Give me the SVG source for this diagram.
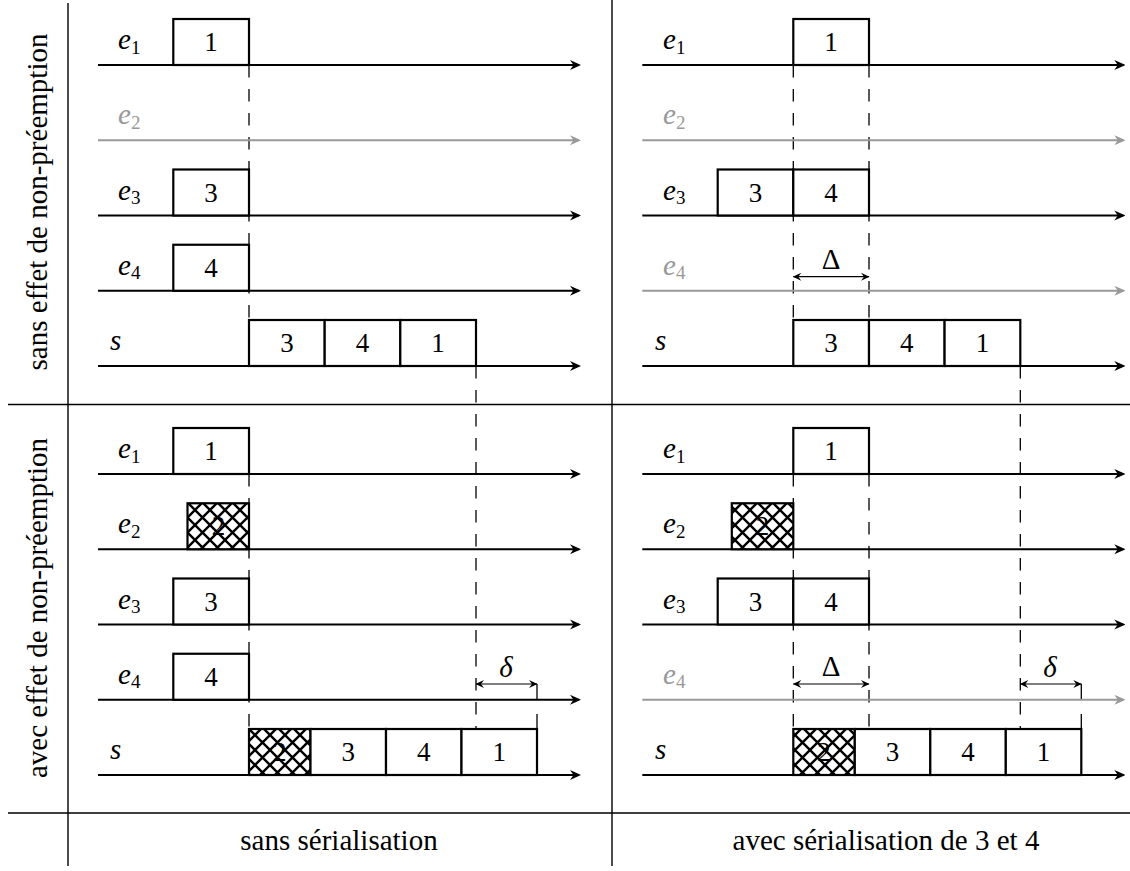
<svg xmlns="http://www.w3.org/2000/svg" width="1130" height="871" viewBox="0 0 1130 871">
<style>
text{font-family:"Liberation Serif","Times New Roman",serif;fill:#000}
.big{font-size:29px}
.lab{font-size:29px;font-style:italic}
.sub{font-size:19px;font-style:normal}
.num{font-size:27px;text-anchor:middle}
.gt{fill:#999}
.sep{stroke:#000;stroke-width:1.4;fill:none}
.ax{stroke:#000;stroke-width:2;fill:none;marker-end:url(#ah)}
.axg{stroke:#999;stroke-width:2;fill:none;marker-end:url(#ahg)}
.box{stroke:#000;stroke-width:2.2;fill:#fff}
.hbox{stroke:#000;stroke-width:2.2;fill:url(#hatch)}
.dash{stroke:#000;stroke-width:1.3;fill:none;stroke-dasharray:12.5 11.5}
.dim{stroke:#000;stroke-width:1.2;fill:none;marker-start:url(#sa);marker-end:url(#sa)}
</style>
<defs>
<marker id="ah" markerUnits="userSpaceOnUse" viewBox="-10 -6 12 12" markerWidth="12" markerHeight="12" refX="0" refY="0" orient="auto">
<path d="M2,0 L-9,-5 L-5.5,0 L-9,5 Z" fill="#000"/>
</marker>
<marker id="ahg" markerUnits="userSpaceOnUse" viewBox="-10 -6 12 12" markerWidth="12" markerHeight="12" refX="0" refY="0" orient="auto">
<path d="M2,0 L-9,-5 L-5.5,0 L-9,5 Z" fill="#999"/>
</marker>
<marker id="sa" markerUnits="userSpaceOnUse" viewBox="-9 -5 10 10" markerWidth="10" markerHeight="10" refX="0" refY="0" orient="auto-start-reverse">
<path d="M0.5,0 L-8,-4 L-5,0 L-8,4 Z" fill="#000"/>
</marker>
<pattern id="hatch" patternUnits="userSpaceOnUse" width="15" height="15">
<rect width="15" height="15" fill="#fff"/>
<path d="M0,0 L15,15 M15,0 L0,15 M-2,13 L2,17 M13,-2 L17,2 M-2,2 L2,-2 M13,17 L17,13" stroke="#000" stroke-width="2.4"/>
</pattern>
</defs>

<g id="frame">
<line class="sep" x1="68" y1="3" x2="68" y2="866"/>
<line class="sep" x1="612" y1="0" x2="612" y2="866"/>
<line class="sep" x1="8" y1="404.5" x2="1130" y2="404.5"/>
<line class="sep" x1="8" y1="813" x2="1130" y2="813"/>
</g>

<g id="headers">
<text class="big" text-anchor="middle" transform="translate(47,202) rotate(-90)">sans effet de non-préemption</text>
<text class="big" text-anchor="middle" transform="translate(47,608) rotate(-90)">avec effet de non-préemption</text>
<text class="big" text-anchor="middle" x="339" y="850">sans sérialisation</text>
<text class="big" text-anchor="middle" x="886" y="850">avec sérialisation de 3 et 4</text>
</g>

<g id="connectors">
<line class="dash" x1="249" y1="65" x2="249" y2="321"/>
<line class="dash" x1="476" y1="366" x2="476" y2="729"/>
<line class="dash" x1="249" y1="474" x2="249" y2="729"/>
<line class="dash" x1="537" y1="729" x2="537" y2="684" style="stroke-dasharray:15 15"/>
<line class="dim" x1="476" y1="684" x2="537" y2="684"/>
<text class="lab" text-anchor="middle" x="506" y="677">δ</text>

<line class="dash" x1="793.3" y1="65" x2="793.3" y2="321"/>
<line class="dash" x1="869" y1="65" x2="869" y2="321"/>
<line class="dash" x1="1020.3" y1="366" x2="1020.3" y2="729"/>
<line class="dash" x1="793.3" y1="474" x2="793.3" y2="729"/>
<line class="dash" x1="869" y1="474" x2="869" y2="729"/>
<line class="dash" x1="1081.3" y1="729" x2="1081.3" y2="684" style="stroke-dasharray:15 15"/>
<line class="dim" x1="793.3" y1="276.7" x2="869" y2="276.7"/>
<text class="big" text-anchor="middle" x="831" y="269">Δ</text>
<line class="dim" x1="793.3" y1="684" x2="869" y2="684"/>
<text class="big" text-anchor="middle" x="831" y="676">Δ</text>
<line class="dim" x1="1020.3" y1="684" x2="1081.3" y2="684"/>
<text class="lab" text-anchor="middle" x="1050" y="677">δ</text>
</g>

<!-- top-left panel -->
<g id="tl-e1">
<line class="ax" x1="98" y1="65" x2="579" y2="65"/>
<text class="lab" x="118" y="49">e<tspan class="sub" dy="4.5">1</tspan></text>
<rect class="box" x="173.3" y="19" width="75.7" height="46"/>
<text class="num" x="211" y="51">1</text>
</g>
<g id="tl-e2">
<line class="axg" x1="98" y1="140.25" x2="579" y2="140.25"/>
<text class="lab gt" x="118" y="124.25">e<tspan class="sub gt" dy="4.5">2</tspan></text>
</g>
<g id="tl-e3">
<line class="ax" x1="98" y1="215.5" x2="579" y2="215.5"/>
<text class="lab" x="118" y="199.5">e<tspan class="sub" dy="4.5">3</tspan></text>
<rect class="box" x="173.3" y="169.5" width="75.7" height="46"/>
<text class="num" x="211" y="201.5">3</text>
</g>
<g id="tl-e4">
<line class="ax" x1="98" y1="290.75" x2="579" y2="290.75"/>
<text class="lab" x="118" y="274.75">e<tspan class="sub" dy="4.5">4</tspan></text>
<rect class="box" x="173.3" y="244.75" width="75.7" height="46"/>
<text class="num" x="211" y="276.75">4</text>
</g>
<g id="tl-s">
<line class="ax" x1="98" y1="366" x2="579" y2="366"/>
<text class="lab" x="110" y="350">s</text>
<rect class="box" x="249" y="320" width="75.7" height="46"/>
<rect class="box" x="324.7" y="320" width="75.6" height="46"/>
<rect class="box" x="400.3" y="320" width="75.7" height="46"/>
<text class="num" x="287" y="352">3</text>
<text class="num" x="362.5" y="352">4</text>
<text class="num" x="438" y="352">1</text>
</g>

<!-- bottom-left panel -->
<g id="bl-e1">
<line class="ax" x1="98" y1="474" x2="579" y2="474"/>
<text class="lab" x="118" y="458">e<tspan class="sub" dy="4.5">1</tspan></text>
<rect class="box" x="173.3" y="428" width="75.7" height="46"/>
<text class="num" x="211" y="460">1</text>
</g>
<g id="bl-e2">
<line class="ax" x1="98" y1="549.25" x2="579" y2="549.25"/>
<text class="lab" x="118" y="533.25">e<tspan class="sub" dy="4.5">2</tspan></text>
<rect class="hbox" x="187.5" y="503.25" width="61.5" height="46"/>
<text class="num" x="218.5" y="535.25">2</text>
</g>
<g id="bl-e3">
<line class="ax" x1="98" y1="624.5" x2="579" y2="624.5"/>
<text class="lab" x="118" y="608.5">e<tspan class="sub" dy="4.5">3</tspan></text>
<rect class="box" x="173.3" y="578.5" width="75.7" height="46"/>
<text class="num" x="211" y="610.5">3</text>
</g>
<g id="bl-e4">
<line class="ax" x1="98" y1="699.75" x2="579" y2="699.75"/>
<text class="lab" x="118" y="683.75">e<tspan class="sub" dy="4.5">4</tspan></text>
<rect class="box" x="173.3" y="653.75" width="75.7" height="46"/>
<text class="num" x="211" y="685.75">4</text>
</g>
<g id="bl-s">
<line class="ax" x1="98" y1="775" x2="579" y2="775"/>
<text class="lab" x="110" y="759">s</text>
<rect class="hbox" x="249" y="729" width="61.5" height="46"/>
<rect class="box" x="310.5" y="729" width="75.5" height="46"/>
<rect class="box" x="386" y="729" width="75.5" height="46"/>
<rect class="box" x="461.5" y="729" width="75.5" height="46"/>
<text class="num" x="279.75" y="761">2</text>
<text class="num" x="348.25" y="761">3</text>
<text class="num" x="423.75" y="761">4</text>
<text class="num" x="499.25" y="761">1</text>
</g>

<!-- top-right panel -->
<g id="tr-e1">
<line class="ax" x1="642.3" y1="65" x2="1123.3" y2="65"/>
<text class="lab" x="663" y="49">e<tspan class="sub" dy="4.5">1</tspan></text>
<rect class="box" x="793.3" y="19" width="75.7" height="46"/>
<text class="num" x="831" y="51">1</text>
</g>
<g id="tr-e2">
<line class="axg" x1="642.3" y1="140.25" x2="1123.3" y2="140.25"/>
<text class="lab gt" x="663" y="124.25">e<tspan class="sub gt" dy="4.5">2</tspan></text>
</g>
<g id="tr-e3">
<line class="ax" x1="642.3" y1="215.5" x2="1123.3" y2="215.5"/>
<text class="lab" x="663" y="199.5">e<tspan class="sub" dy="4.5">3</tspan></text>
<rect class="box" x="717.7" y="169.5" width="75.6" height="46"/>
<rect class="box" x="793.3" y="169.5" width="75.7" height="46"/>
<text class="num" x="755.5" y="201.5">3</text>
<text class="num" x="831" y="201.5">4</text>
</g>
<g id="tr-e4">
<line class="axg" x1="642.3" y1="290.75" x2="1123.3" y2="290.75"/>
<text class="lab gt" x="663" y="274.75">e<tspan class="sub gt" dy="4.5">4</tspan></text>
</g>
<g id="tr-s">
<line class="ax" x1="642.3" y1="366" x2="1123.3" y2="366"/>
<text class="lab" x="655" y="350">s</text>
<rect class="box" x="793.3" y="320" width="75.7" height="46"/>
<rect class="box" x="869" y="320" width="75.6" height="46"/>
<rect class="box" x="944.6" y="320" width="75.7" height="46"/>
<text class="num" x="831" y="352">3</text>
<text class="num" x="906.8" y="352">4</text>
<text class="num" x="982.5" y="352">1</text>
</g>

<!-- bottom-right panel -->
<g id="br-e1">
<line class="ax" x1="642.3" y1="474" x2="1123.3" y2="474"/>
<text class="lab" x="663" y="458">e<tspan class="sub" dy="4.5">1</tspan></text>
<rect class="box" x="793.3" y="428" width="75.7" height="46"/>
<text class="num" x="831" y="460">1</text>
</g>
<g id="br-e2">
<line class="ax" x1="642.3" y1="549.25" x2="1123.3" y2="549.25"/>
<text class="lab" x="663" y="533.25">e<tspan class="sub" dy="4.5">2</tspan></text>
<rect class="hbox" x="731.8" y="503.25" width="61.5" height="46"/>
<text class="num" x="762.5" y="535.25">2</text>
</g>
<g id="br-e3">
<line class="ax" x1="642.3" y1="624.5" x2="1123.3" y2="624.5"/>
<text class="lab" x="663" y="608.5">e<tspan class="sub" dy="4.5">3</tspan></text>
<rect class="box" x="717.7" y="578.5" width="75.6" height="46"/>
<rect class="box" x="793.3" y="578.5" width="75.7" height="46"/>
<text class="num" x="755.5" y="610.5">3</text>
<text class="num" x="831" y="610.5">4</text>
</g>
<g id="br-e4">
<line class="axg" x1="642.3" y1="699.75" x2="1123.3" y2="699.75"/>
<text class="lab gt" x="663" y="683.75">e<tspan class="sub gt" dy="4.5">4</tspan></text>
</g>
<g id="br-s">
<line class="ax" x1="642.3" y1="775" x2="1123.3" y2="775"/>
<text class="lab" x="655" y="759">s</text>
<rect class="hbox" x="793.3" y="729" width="61.5" height="46"/>
<rect class="box" x="854.8" y="729" width="75.5" height="46"/>
<rect class="box" x="930.3" y="729" width="75.5" height="46"/>
<rect class="box" x="1005.8" y="729" width="75.5" height="46"/>
<text class="num" x="824" y="761">2</text>
<text class="num" x="892.5" y="761">3</text>
<text class="num" x="968" y="761">4</text>
<text class="num" x="1043.5" y="761">1</text>
</g>
</svg>
